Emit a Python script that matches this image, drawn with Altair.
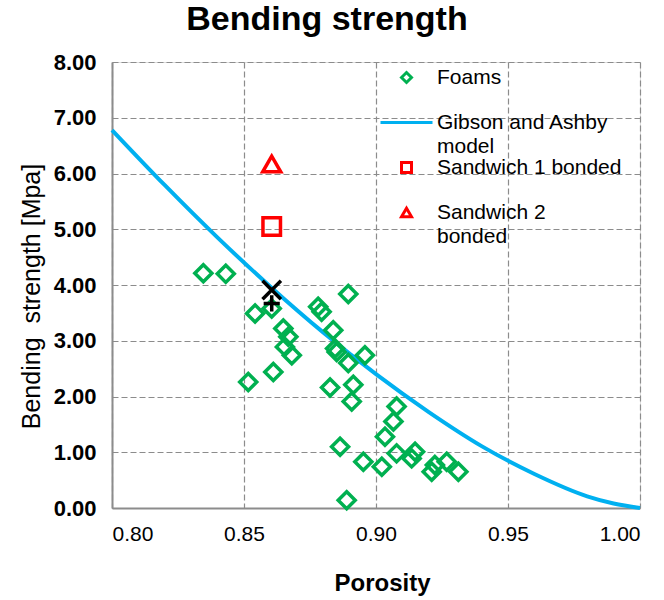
import altair as alt
import pandas as pd

# ---- data ----
foam_porosity = [0.8346, 0.8431, 0.8542, 0.8605, 0.8649, 0.8668, 0.8655, 0.8681,
                 0.8611, 0.8516, 0.8895, 0.8781, 0.8794, 0.8838, 0.8845, 0.8851,
                 0.8895, 0.8958, 0.8826, 0.8914, 0.8908, 0.9078, 0.9066, 0.9034,
                 0.8864, 0.8952, 0.9022, 0.9078, 0.9148, 0.9135, 0.9223, 0.9211,
                 0.9268, 0.9312, 0.8889]
foam_strength = [4.21, 4.20, 3.49, 3.58, 3.22, 3.07, 2.89, 2.74,
                 2.44, 2.26, 3.84, 3.61, 3.52, 3.19, 2.86, 2.80,
                 2.60, 2.74, 2.16, 2.21, 1.91, 1.82, 1.55, 1.28,
                 1.10, 0.83, 0.74, 0.98, 1.01, 0.89, 0.77, 0.65,
                 0.83, 0.65, 0.14]

sandwich1_porosity = [0.8605]
sandwich1_strength = [5.05]
sandwich2_porosity = [0.8605]
sandwich2_strength = [6.17]

xmark_porosity = [0.8605]
xmark_strength = [3.91]
plus_porosity = [0.8605]
plus_strength = [3.67]

model_porosity = [0.80, 0.82, 0.84, 0.86, 0.88, 0.90, 0.92, 0.94, 0.96, 0.98, 0.99, 1.00]
model_strength = [6.78, 5.79, 4.85, 3.97, 3.15, 2.40, 1.72, 1.11, 0.61, 0.21, 0.08, 0.00]

series_names = ["Foams", "Gibson and Ashby model", "Sandwich 1 bonded", "Sandwich 2 bonded"]
series_colors = ["#00b050", "#00b0f0", "#ff0000", "#ff0000"]
series_shapes = ["diamond", "M-5.2,0L5.2,0", "square", "triangle-up"]
point_series = ["Foams", "Sandwich 1 bonded", "Sandwich 2 bonded"]
point_sizes = [290, 324, 400]

x_ticks = [0.80, 0.85, 0.90, 0.95, 1.00]
y_ticks = [0, 1, 2, 3, 4, 5, 6, 7, 8]

# ---- tables ----
points = pd.concat([
    pd.DataFrame({"porosity": foam_porosity, "strength": foam_strength, "series": "Foams"}),
    pd.DataFrame({"porosity": sandwich1_porosity, "strength": sandwich1_strength, "series": "Sandwich 1 bonded"}),
    pd.DataFrame({"porosity": sandwich2_porosity, "strength": sandwich2_strength, "series": "Sandwich 2 bonded"}),
], ignore_index=True)
model = pd.DataFrame({"porosity": model_porosity, "strength": model_strength,
                      "series": "Gibson and Ashby model"})
xmarks = pd.DataFrame({"porosity": xmark_porosity, "strength": xmark_strength})
plusmarks = pd.DataFrame({"porosity": plus_porosity, "strength": plus_strength})

FONT = "Liberation Sans"

x_enc = alt.X("porosity:Q",
              scale=alt.Scale(domain=[0.8, 1.0], nice=False, zero=False),
              axis=alt.Axis(values=x_ticks, format=".2f", title="Porosity",
                            ticks=False, labelPadding=15, labelFontSize=21,
                            labelFont=FONT, labelColor="#000",
                            titleFont=FONT, titleFontSize=24, titleFontWeight="bold",
                            titleColor="#000", titleX=270, titleY=82,
                            titleBaseline="alphabetic", titleAlign="center",
                            domainColor="#8c8c8c", domainWidth=2,
                            grid=True, gridColor="#8c8c8c", gridDash=[6, 3],
                            gridWidth=1.2))
y_enc = alt.Y("strength:Q",
              scale=alt.Scale(domain=[0, 8], nice=False),
              axis=alt.Axis(values=y_ticks, format=".2f",
                            title="Bending\u00a0\u00a0strength [Mpa]",
                            ticks=False, labelPadding=16, labelFontSize=22,
                            labelFont=FONT, labelFontWeight="bold", labelColor="#000",
                            titleFont=FONT, titleFontSize=25, titleFontWeight="normal",
                            titleColor="#000", titleX=-73, titleY=234, titleAngle=270,
                            titleBaseline="alphabetic", titleAlign="center",
                            domainColor="#8c8c8c", domainWidth=2,
                            grid=True, gridColor="#8c8c8c", gridDash=[6, 3],
                            gridWidth=1.2))

label_expr = ("datum.label == 'Gibson and Ashby model' ? ['Gibson and Ashby', 'model'] : "
              "datum.label == 'Sandwich 2 bonded' ? ['Sandwich 2', 'bonded'] : [datum.label, '']")

legend = alt.Legend(
    title=None, orient="none", legendX=284, legendY=5, padding=0,
    labelFont=FONT, labelFontSize=21, labelColor="#000", labelLimit=400,
    labelOffset=20, labelBaseline="middle", rowPadding=-25,
    symbolSize=100, symbolStrokeWidth=3, symbolFillColor="transparent",
    symbolOpacity=1, labelExpr=label_expr,
)

color_enc = alt.Color("series:N", scale=alt.Scale(domain=series_names, range=series_colors),
                      legend=legend)
shape_enc = alt.Shape("series:N", scale=alt.Scale(domain=series_names, range=series_shapes),
                      legend=legend)

line_layer = alt.Chart(model).mark_line(strokeWidth=4, interpolate="monotone").encode(
    x=x_enc, y=y_enc, color=color_enc)

point_layer = alt.Chart(points).mark_point(filled=False, strokeWidth=3.5, opacity=1).encode(
    x="porosity:Q", y="strength:Q", color=color_enc, shape=shape_enc,
    size=alt.Size("series:N", scale=alt.Scale(domain=point_series, range=point_sizes),
                  legend=None))

x_layer = alt.Chart(xmarks).mark_point(
    shape="M-1,-1L1,1M-1,1L1,-1", filled=False, strokeWidth=3.5, color="#000",
    size=340, opacity=1).encode(x="porosity:Q", y="strength:Q")
plus_layer = alt.Chart(plusmarks).mark_point(
    shape="M-1,0L1,0M0,-1L0,1", filled=False, strokeWidth=3.5, color="#000",
    size=260, opacity=1).encode(x="porosity:Q", y="strength:Q")

chart = alt.layer(line_layer, point_layer, x_layer, plus_layer).properties(
    width=528, height=446,
    title=alt.TitleParams("Bending strength", font=FONT, fontSize=34, fontWeight="bold",
                          color="#000", anchor="middle", frame="group", dx=-49, offset=14),
    autosize=alt.AutoSizeParams(type="none"),
    padding={"left": 112, "top": 62, "right": 24, "bottom": 92},
).configure_view(stroke="#000", strokeWidth=2).configure(
    background="white", style={"guide-label": {"lineHeight": 24}})

chart.save("out.html", embed_options={"renderer": "svg", "actions": False})
